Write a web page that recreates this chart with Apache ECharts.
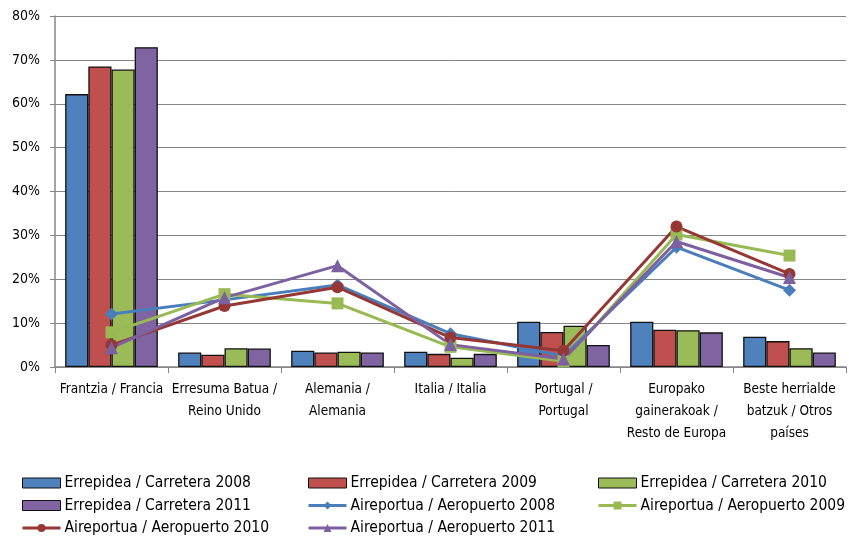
<!DOCTYPE html>
<html><head><meta charset="utf-8">
<script src="https://cdn.jsdelivr.net/npm/echarts@6/dist/echarts.min.js"></script>
<style>html,body{margin:0;padding:0;background:#fff}#c{width:849px;height:539px}</style>
</head><body><div id="c"></div>
<script>
const categories = ["Frantzia / Francia","Erresuma Batua /\nReino Unido","Alemania /\nAlemania","Italia / Italia","Portugal /\nPortugal","Europako\ngainerakoak /\nResto de Europa","Beste herrialde\nbatzuk / Otros\npaíses"];
const yTicks = [0,10,20,30,40,50,60,70,80];
const road2008 = [62.2, 3.3, 3.7, 3.5, 10.3, 10.3, 6.9];
const road2009 = [68.5, 2.8, 3.3, 3.0, 8.0, 8.5, 5.9];
const road2010 = [67.8, 4.3, 3.5, 2.1, 9.4, 8.4, 4.3];
const road2011 = [72.9, 4.2, 3.3, 3.0, 5.0, 7.9, 3.3];
const air2008 = [12.1, 15.3, 18.7, 7.6, 2.5, 27.3, 17.5];
const air2009 = [7.9, 16.6, 14.5, 4.6, 1.3, 30.2, 25.4];
const air2010 = [5.0, 13.9, 18.2, 6.7, 3.7, 32.0, 21.2];
const air2011 = [4.4, 15.8, 23.1, 5.1, 1.8, 28.6, 20.4];

const names = ["Errepidea / Carretera 2008","Errepidea / Carretera 2009","Errepidea / Carretera 2010","Errepidea / Carretera 2011","Aireportua / Aeropuerto 2008","Aireportua / Aeropuerto 2009","Aireportua / Aeropuerto 2010","Aireportua / Aeropuerto 2011"];
const FONT = '"DejaVu Sans Condensed", "Liberation Sans Narrow", sans-serif';
const barColors = ['#4F81BD','#C0504D','#9BBB59','#8064A2'];
const lineColors = ['#4A7EBB','#98B954','#953735','#7D60A0'];
const symbols = ['diamond','rect','circle','triangle'];
const symSizes = [13,12,12,13];

const series = [];
[road2008,road2009,road2010,road2011].forEach((d,i)=>{
  series.push({name:names[i],type:'bar',data:d,barGap:'0%',barCategoryGap:'18%',
    itemStyle:{color:barColors[i],borderColor:'#111',borderWidth:1.3},z:2});
});
[air2008,air2009,air2010,air2011].forEach((d,i)=>{
  series.push({name:names[4+i],type:'line',data:d,symbol:symbols[i],symbolSize:symSizes[i],
    lineStyle:{color:lineColors[i],width:3},itemStyle:{color:lineColors[i]},z:3});
});

const legendBase = {orient:'vertical',top:475,padding:0,itemGap:6.5,itemWidth:38,itemHeight:10,
  lineStyle:{width:3},
  textStyle:{fontFamily:FONT,fontSize:15.5,lineHeight:16,color:'#000',padding:[0,0,0,-1]}};
const li = (i)=> i<4 ? {name:names[i],icon:'rect',itemStyle:{borderWidth:1}} : {name:names[i]};
const option = {
  animation:false,
  grid:{left:55,right:3,top:16,bottom:172},
  xAxis:{type:'category',data:categories,
    axisLine:{lineStyle:{color:'#868686',width:1.5}},
    axisTick:{show:true,alignWithLabel:false,length:6,lineStyle:{color:'#868686'}},
    axisLabel:{fontFamily:FONT,fontSize:13.5,color:'#000',lineHeight:22,margin:11,interval:0}},
  yAxis:{type:'value',min:yTicks[0],max:yTicks[yTicks.length-1],interval:10,
    axisLine:{show:true,lineStyle:{color:'#868686',width:1.5}},
    axisTick:{show:true,length:5,lineStyle:{color:'#868686'}},
    splitLine:{lineStyle:{color:'#868686',width:1}},
    axisLabel:{fontFamily:FONT,fontSize:14,color:'#000',margin:15,formatter:v=>v+'%'}},
  legend:[
    Object.assign({},legendBase,{left:21,data:[li(0),li(3),li(6)]}),
    Object.assign({},legendBase,{left:307,data:[li(1),li(4),li(7)]}),
    Object.assign({},legendBase,{left:597,data:[li(2),li(5)]})
  ],
  series:series
};
const chart = echarts.init(document.getElementById('c'),null,{renderer:'canvas'});
chart.setOption(option);
</script></body></html>
